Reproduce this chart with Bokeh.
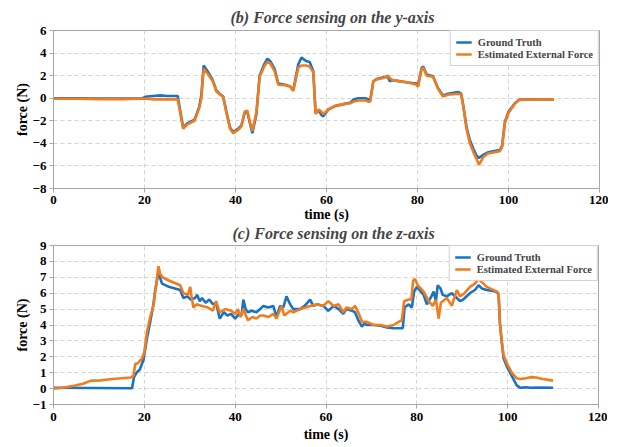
from bokeh.plotting import figure
from bokeh.layouts import column
from bokeh.models import FixedTicker, Legend, LegendItem
from bokeh.embed import file_html
from bokeh.resources import INLINE

# ---- (b) y-axis data ----
y_t = [0, 5, 10, 15, 19.5, 20.5, 22, 23.5, 25, 27.3, 27.8, 28.5, 29.5, 31, 32, 32.5, 33, 34, 35, 35.8,
       36.5, 37.3, 38, 38.8, 39.5, 40.6, 41.3, 42, 42.6, 43.1, 43.7, 44.6, 45.3, 46.3, 47, 47.6, 48.6,
       49.4, 50.9, 52, 52.7, 53.8, 54.5, 55.5, 56.3, 57.1, 57.6, 58.3, 58.9, 59.3, 60.4, 61.8, 64, 65.2,
       66, 67, 68.5, 69.2, 69.6, 70.3, 71, 72.5, 73.5, 73.9, 74.5, 77.9, 79.8, 80.1, 80.9, 81.3, 82,
       83.4, 84.5, 85.6, 86.7, 88.9, 89.6, 90, 90.8, 91.5, 92.3, 93, 93.5, 94.5, 95.5, 98.1, 98.6, 99.2,
       100, 101.4, 102.5, 104, 110]
y_gt = [0.0, 0.0, -0.02, -0.02, 0.0, 0.15, 0.2, 0.25, 0.2, 0.2, -1.0, -2.6, -2.2, -1.9, -0.8, 0.3, 2.9,
        2.3, 1.6, 0.7, 0.4, 0.15, -1.2, -2.6, -3.0, -2.7, -2.4, -1.3, -1.2, -2.1, -3.1, -1.4, 2.0, 3.0,
        3.5, 3.3, 2.6, 1.3, 1.2, 1.05, 0.7, 3.0, 3.6, 3.3, 3.2, 2.4, -1.3, -1.1, -1.5, -1.6, -1.0, -0.7,
        -0.5, -0.4, -0.1, 0.0, 0.0, -0.1, -0.2, 1.5, 1.7, 1.85, 1.9, 1.5, 1.6, 1.4, 1.3, 1.1, 2.7, 2.8,
        2.1, 1.95, 0.9, 0.25, 0.4, 0.55, 0.4, -0.5, -2.6, -3.7, -4.5, -5.1, -5.3, -5.0, -4.8, -4.6, -4.2,
        -2.1, -1.2, -0.45, -0.1, -0.1, -0.1]
y_est = [-0.05, -0.05, -0.08, -0.08, -0.05, -0.05, -0.1, -0.08, -0.1, -0.1, -1.2, -2.7, -2.3, -2.0, -0.9,
         0.0, 2.6, 2.1, 1.5, 0.6, 0.35, 0.1, -1.3, -2.7, -3.1, -2.8, -2.5, -1.2, -1.1, -2.0, -2.9, -1.2,
         1.9, 2.8, 3.2, 3.1, 2.4, 1.2, 1.15, 1.05, 0.65, 2.7, 2.9, 2.9, 2.8, 2.3, -1.4, -1.0, -1.2, -1.4,
         -1.0, -0.7, -0.5, -0.45, -0.3, -0.2, -0.2, -0.3, -0.3, 1.5, 1.65, 1.8, 2.0, 1.8, 1.6, 1.4, 1.2,
         1.0, 2.6, 2.7, 2.0, 1.9, 0.85, 0.15, 0.3, 0.4, 0.35, -0.55, -2.8, -4.0, -4.8, -5.4, -5.9, -5.2,
         -4.9, -4.7, -4.3, -2.2, -1.3, -0.5, -0.1, -0.12, -0.1]

# ---- (c) z-axis data ----
z_gt_t = [0, 17.3, 17.7, 18.3, 19, 19.8, 20.2, 20.6, 21.3, 22, 22.4, 23.1, 23.9, 25.4, 27.9, 28.6, 29.5,
          30.2, 31.2, 31.6, 32.2, 32.7, 33.5, 34.3, 35.1, 35.8, 36.6, 37.5, 38.3, 39.1, 40, 40.8, 41.4,
          41.8, 42.3, 42.8, 43.6, 44.7, 45.5, 46.2, 47.3, 48.4, 49.1, 49.9, 50.6, 51.3, 52.1, 52.8, 54.3,
          55.3, 56.5, 57.2, 58, 59.4, 60.5, 61.7, 62.8, 63.8, 64.5, 65.7, 66.4, 67.1, 67.9, 68.5, 69, 70.5,
          72, 73.4, 74.9, 76, 76.9, 77.3, 78.2, 78.9, 79.4, 80, 81.5, 82.2, 83.2, 83.7, 84.2, 84.6, 85.2,
          85.7, 86.6, 87.7, 88.8, 89.5, 90.2, 91.7, 92.8, 93.6, 94.3, 95.4, 97.6, 98, 98.3, 98.7, 99.1,
          99.8, 100.9, 102, 102.8, 104, 105, 107, 110]
z_gt = [0.05, 0.02, 0.7, 1.0, 1.2, 1.8, 2.5, 3.2, 4.2, 5.3, 6.2, 7.3, 6.6, 6.4, 6.2, 5.7, 5.8, 5.6, 5.7,
        5.9, 5.5, 5.7, 5.4, 5.6, 5.3, 5.4, 4.4, 4.8, 4.6, 4.7, 4.4, 4.7, 4.6, 5.6, 5.0, 4.8, 4.9, 4.8,
        5.0, 5.2, 5.1, 5.2, 4.5, 5.2, 5.1, 5.8, 5.3, 5.0, 5.0, 5.2, 5.6, 5.2, 5.3, 5.2, 4.9, 5.2, 5.0,
        4.7, 5.0, 4.9, 4.8, 4.3, 3.9, 4.1, 4.0, 4.0, 3.95, 3.85, 3.8, 3.8, 3.8, 5.1, 5.3, 5.1, 6.1, 6.4,
        5.9, 5.3, 5.8, 6.1, 5.5, 6.5, 6.3, 5.9, 5.8, 6.0, 5.7, 5.5, 5.6, 6.0, 6.2, 6.5, 6.3, 6.2, 6.1,
        5.9, 4.1, 2.9, 1.9, 1.4, 0.8, 0.2, 0.05, 0.08, 0.05, 0.06, 0.05]
z_est_t = [0, 2, 4.8, 6.5, 8.3, 10.5, 13, 15, 17, 17.6, 18, 18.6, 19.5, 20, 20.6, 21.3, 22, 22.6, 23.1,
           23.5, 24, 25.4, 27.9, 28.6, 29.6, 30.1, 30.4, 30.8, 31.5, 32.7, 34, 35.1, 35.8, 36.6, 37.8,
           39.1, 40, 40.6, 41.2, 41.8, 42.8, 43.8, 44.7, 45.5, 46.2, 47.3, 48.4, 49.1, 50.2, 50.8, 52.1,
           52.8, 54.3, 55.5, 56.5, 58, 59.4, 60.5, 61.7, 62.8, 63.8, 64.5, 65.7, 66.4, 67.1, 67.9, 69,
           70.5, 72, 73.4, 74.9, 76, 76.7, 77.2, 78.2, 78.8, 79.2, 79.6, 80.2, 81.5, 82.6, 83.5, 84.2,
           84.8, 85.3, 86.6, 87.7, 88.8, 89.5, 90.5, 91.7, 92.8, 93.6, 94.3, 95.4, 97.6, 98, 98.3, 98.7,
           99.1, 99.8, 100.9, 102, 102.8, 104, 105, 106.3, 107.7, 110]
z_est = [0.0, 0.05, 0.2, 0.3, 0.5, 0.52, 0.6, 0.65, 0.7, 0.8, 1.55, 1.6, 1.9, 2.3, 3.6, 4.5, 5.2, 6.5,
         7.7, 7.2, 7.0, 6.8, 6.5, 6.0, 5.9, 6.4, 5.8, 5.1, 5.3, 5.2, 5.1, 4.9, 5.5, 4.8, 5.0, 4.9, 4.7,
         5.0, 4.5, 5.0, 4.3, 4.5, 4.4, 4.6, 4.6, 4.5, 4.7, 4.4, 5.2, 4.6, 4.9, 4.8, 5.0, 5.1, 5.2, 5.3,
         5.2, 5.5, 5.2, 5.3, 4.8, 5.1, 5.0, 5.2, 4.8, 4.2, 4.2, 4.0, 4.0, 3.9, 4.0, 4.2, 4.3, 5.5, 5.6,
         5.6, 6.8, 6.9, 6.5, 6.1, 5.5, 5.2, 5.6, 4.4, 5.4, 5.7, 5.2, 6.2, 5.8, 6.0, 6.4, 6.6, 6.9, 6.7,
         6.4, 6.1, 6.0, 4.1, 3.0, 2.1, 1.6, 1.0, 0.65, 0.6, 0.65, 0.72, 0.7, 0.6, 0.5]

x_ticks = [0, 20, 40, 60, 80, 100, 120]
y_ticks_b = [-8, -6, -4, -2, 0, 2, 4, 6]
y_ticks_c = [-1, 0, 1, 2, 3, 4, 5, 6, 7, 8, 9]
labels = ["Ground Truth", "Estimated External Force"]

BLUE = "#1a72c2"
ORANGE = "#f07c1e"
SERIF = "Liberation Serif"
GRAY = "#a6a6a6"


def make(title, width, height, left, top, standoff, t_off, lab_so, axl_so, yr, yticks,
         gt_t, gt, est_t, est):
    p = figure(width=width, height=height, x_range=(0, 120), y_range=yr,
               output_backend="svg", toolbar_location=None,
               min_border_left=left, min_border_right=9, min_border_top=top, min_border_bottom=0)
    p.title.text = title
    p.title.text_font = SERIF
    p.title.text_font_style = "bold italic"
    p.title.text_font_size = "16px"
    p.title.align = "left"
    p.title.offset = t_off
    p.title.standoff = standoff
    p.outline_line_color = GRAY
    p.outline_line_width = 1
    r1 = p.line(gt_t, gt, line_color=BLUE, line_width=2.6)
    r2 = p.line(est_t, est, line_color=ORANGE, line_width=2.6)
    p.xaxis.ticker = FixedTicker(ticks=x_ticks)
    p.yaxis.ticker = FixedTicker(ticks=yticks)
    for ax in (p.xaxis[0], p.yaxis[0]):
        ax.axis_line_color = GRAY
        ax.major_tick_line_color = GRAY
        ax.major_tick_out = 4
        ax.major_tick_in = 0
        ax.minor_tick_line_color = None
        ax.major_label_text_font = SERIF
        ax.major_label_text_font_style = "bold"
        ax.major_label_text_font_size = "13px"
        ax.major_label_text_color = "#000000"
        ax.axis_label_text_font = SERIF
        ax.axis_label_text_font_style = "bold"
        ax.axis_label_text_font_size = "14px"
        ax.axis_label_text_color = "#000000"
        ax.major_label_standoff = 3
        ax.axis_label_standoff = 0
    p.xaxis.major_label_standoff = lab_so
    p.xaxis.axis_label_standoff = axl_so
    p.xaxis.axis_label = "time (s)"
    p.yaxis.axis_label = "force (N)"
    for g in (p.xgrid[0], p.ygrid[0]):
        g.grid_line_color = "#d4d4d4"
        g.grid_line_dash = "4 3"
        g.grid_line_width = 1
    leg = Legend(items=[LegendItem(label=labels[0], renderers=[r1]),
                        LegendItem(label=labels[1], renderers=[r2])],
                 location="top_right", margin=0, padding=5, spacing=0,
                 label_text_font=SERIF, label_text_font_style="bold",
                 label_text_font_size="10.5px", label_height=12, glyph_height=12,
                 glyph_width=16, label_standoff=6,
                 border_line_color=GRAY, background_fill_alpha=1)
    p.add_layout(leg)
    return p


p1 = make("(b) Force sensing on the y-axis", 608, 224, 52, 30, 9, 177, 3, 0, (-8, 6), y_ticks_b,
          y_t, y_gt, y_t, y_est)
p2 = make("(c) Force sensing on the z-axis", 607, 225, 53, 0, 7, 179, 4, 3, (-1, 9), y_ticks_c,
          z_gt_t, z_gt, z_est_t, z_est)
p2.border_fill_alpha = 0
p2.margin = (-5, 0, 0, 0)

layout = column(p1, p2, spacing=0)
open("out.html", "w").write(file_html(layout, INLINE))
